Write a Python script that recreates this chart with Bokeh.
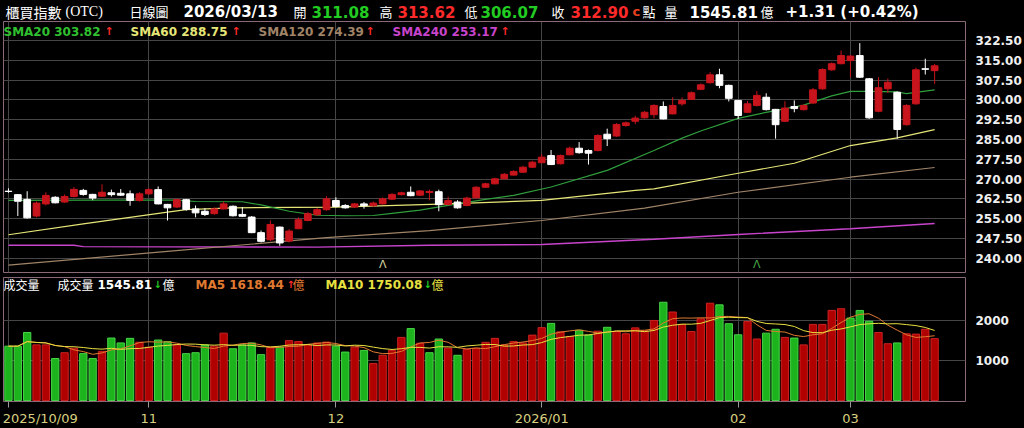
import pandas as pd
from bokeh.plotting import figure
from bokeh.layouts import column
from bokeh.models import (ColumnDataSource, Range1d, FixedTicker, Label,
                          NumeralTickFormatter, GlobalInlineStyleSheet)
from bokeh.embed import file_html
from bokeh.resources import INLINE
from bokeh.core.properties import value

# ---------------- data ----------------
opens = [265.4, 264.1, 262.3, 256.0, 260.6, 263.1, 261.3, 263.4, 265.7, 264.2,
         263.5, 264.8, 264.6, 264.4, 261.9, 264.4, 266.0, 260.4, 259.4, 262.2,
         258.7, 257.8, 256.9, 258.7, 259.7, 256.6, 255.6, 249.7, 247.0, 251.8,
         246.5, 251.2, 254.3, 256.5, 258.4, 261.9, 260.0, 259.4, 260.6, 259.9,
         260.6, 262.4, 264.1, 265.0, 263.9, 264.9, 265.2, 260.4, 261.3, 260.0,
         262.9, 266.9, 268.2, 270.1, 271.5, 272.6, 274.5, 276.2, 278.9, 275.8,
         279.2, 281.7, 280.8, 280.8, 287.0, 286.3, 290.3, 291.9, 293.2, 294.4,
         297.5, 294.7, 298.5, 300.2, 304.0, 306.5, 309.5, 305.5, 299.8, 295.3,
         297.9, 301.0, 296.4, 291.9, 297.5, 296.3, 298.8, 304.2, 311.4, 313.7,
         314.9, 316.8, 308.0, 295.7, 304.2, 302.9, 290.6, 298.5, 311.8, 311.08]
highs = [266.5, 264.3, 265.4, 261.5, 265.0, 263.5, 264.2, 267.0, 266.3, 264.4,
         268.0, 266.0, 266.2, 265.7, 265.0, 266.5, 267.2, 260.6, 262.5, 262.5,
         260.0, 259.0, 259.3, 261.5, 260.0, 259.4, 256.0, 250.5, 254.3, 252.0,
         251.0, 255.5, 257.5, 259.0, 263.5, 263.1, 260.5, 261.0, 261.3, 261.5,
         263.0, 264.6, 265.2, 267.2, 265.8, 266.0, 266.0, 263.3, 262.0, 263.3,
         267.3, 268.6, 270.5, 272.3, 273.3, 275.0, 276.9, 279.5, 281.0, 279.3,
         282.3, 284.0, 281.2, 287.0, 289.1, 291.2, 291.8, 294.0, 295.8, 298.3,
         299.4, 301.0, 301.0, 303.2, 306.2, 310.5, 311.8, 305.8, 300.0, 299.6,
         303.3, 302.5, 296.6, 299.5, 299.8, 298.3, 304.5, 312.0, 314.2, 318.7,
         317.0, 321.5, 308.3, 308.6, 308.1, 303.2, 298.3, 312.2, 315.6, 313.62]
lows = [264.8, 256.0, 255.0, 255.5, 260.0, 260.8, 261.0, 263.0, 263.7, 262.0,
        263.3, 263.4, 263.6, 259.9, 261.5, 264.0, 260.4, 254.3, 259.0, 258.0,
        255.5, 256.0, 256.5, 258.5, 255.8, 255.6, 249.5, 246.0, 246.5, 244.7,
        246.0, 251.0, 254.0, 256.0, 258.0, 259.3, 258.8, 259.0, 258.8, 259.5,
        260.3, 262.0, 263.8, 263.5, 263.6, 261.9, 257.8, 260.0, 258.8, 259.7,
        262.6, 266.6, 268.0, 270.0, 271.3, 272.3, 274.2, 276.0, 275.3, 275.5,
        279.0, 279.6, 275.5, 280.5, 282.5, 286.0, 289.8, 290.8, 292.9, 293.0,
        292.6, 294.5, 297.8, 300.0, 303.7, 306.2, 304.4, 299.4, 292.8, 295.0,
        297.5, 296.0, 285.3, 291.6, 295.3, 296.0, 298.5, 303.8, 311.0, 313.5,
        308.6, 308.3, 292.8, 295.3, 302.6, 285.3, 290.3, 298.2, 309.6, 306.07]
closes = [265.3, 261.6, 255.3, 260.9, 263.8, 261.0, 263.4, 266.1, 264.2, 262.8,
          265.0, 264.1, 263.9, 261.9, 264.4, 266.0, 260.6, 259.1, 262.2, 258.5,
          257.2, 256.6, 258.7, 260.6, 256.1, 255.9, 249.7, 246.4, 252.8, 245.8,
          250.3, 254.6, 256.9, 258.4, 262.5, 259.6, 259.1, 260.6, 259.9, 260.9,
          262.5, 264.2, 264.8, 263.7, 265.5, 265.3, 260.3, 261.9, 259.1, 262.8,
          266.9, 268.2, 270.1, 271.8, 272.9, 274.5, 276.4, 278.3, 275.5, 278.9,
          281.7, 280.0, 279.8, 286.5, 285.3, 290.7, 291.3, 293.1, 295.3, 297.9,
          292.8, 297.9, 299.8, 302.7, 305.7, 309.5, 305.5, 300.6, 294.1, 298.5,
          301.7, 296.3, 290.6, 296.9, 296.7, 297.9, 303.8, 311.5, 313.7, 316.8,
          316.6, 308.6, 293.2, 304.6, 306.7, 288.8, 297.9, 311.4, 311.59, 312.90]
volumes = [1358, 1358, 1700, 1390, 1390, 1049, 1195, 1309, 1171, 1049,
           1228, 1561, 1439, 1553, 1456, 1333, 1512, 1472, 1390, 1171,
           1195, 1390, 1358, 1683, 1293, 1390, 1439, 1146, 1333, 1333,
           1496, 1472, 1390, 1439, 1460, 1358, 1211, 1333, 1252, 927,
           1130, 1252, 1577, 1797, 1431, 1195, 1537, 1309, 1130, 1276,
           1309, 1455, 1553, 1390, 1472, 1439, 1634, 1821, 1927, 1715,
           1602, 1756, 1634, 1732, 1829, 1723, 1667, 1815, 1740, 2000,
           2455, 2211, 1902, 1724, 2041, 2431, 2390, 1919, 1642, 1976,
           1537, 1683, 1780, 1577, 1561, 1390, 1902, 1902, 2252, 2293,
           2060, 2250, 1980, 1700, 1418.6, 1439, 1668, 1659, 1780.39, 1545.81]
prev_close_before = 266.0

month_ticks = [0, 15, 35, 57, 78, 90]
month_labels = ["2025/10/09", "11", "12", "2026/01", "02", "03"]
price_ticks = [240.0, 247.5, 255.0, 262.5, 270.0, 277.5, 285.0, 292.5, 300.0, 307.5, 315.0, 322.5]
vol_ticks = [1000, 2000]

event_idx = [40, 80]
event_marks = ["Λ", "Λ"]
event_colors = ["#d8d8a0", "#48a848"]

sma20_idx = [0, 10, 18, 20, 25, 27, 30, 33, 36, 39, 41, 44, 47, 51, 54, 58, 64, 69, 72, 74, 78, 81, 85, 88, 90, 92, 95, 96, 99]
sma20_val = [261.9, 262.0, 262.0, 261.5, 261.4, 260.2, 257.8, 256.3, 256.1, 256.2, 257.0, 258.2, 260.0, 262.3, 263.8, 267.0, 273.3, 280.8, 285.5, 288.2, 293.0, 295.3, 298.0, 301.5, 303.2, 303.2, 303.0, 302.4, 303.82]
sma60_idx = [0, 8, 17, 19, 24, 35, 47, 57, 67, 69, 78, 84, 90, 95, 99]
sma60_val = [248.9, 253.0, 257.5, 258.4, 259.1, 259.4, 260.6, 261.9, 265.7, 266.3, 272.2, 276.0, 282.7, 285.6, 288.75]
sma120_idx = [0, 17, 34, 45, 57, 68, 78, 90, 99]
sma120_val = [237.4, 242.6, 247.8, 250.5, 254.3, 259.0, 265.0, 270.7, 274.39]
sma240_idx = [0, 7, 8, 33, 45, 57, 69, 78, 90, 99]
sma240_val = [244.9, 244.9, 244.4, 244.2, 244.9, 245.2, 247.2, 249.0, 251.2, 253.17]

# ---------------- styling ----------------
BG = "#000000"
FRAME = "#8a6a78"
GRID = "#464646"
UP = "#c8141c"
DOWN = "#ffffff"
VOL_UP, VOL_UP_LINE = "#b00000", "#cc2222"
VOL_DN, VOL_DN_LINE = "#1db31d", "#48d448"
RED_TXT, GRN_TXT = "#ff2a2a", "#22cc22"
C_SMA20, C_SMA60, C_SMA120, C_SMA240 = "#2f9e3c", "#e6e678", "#a08468", "#c844cc"
T_SMA20 = "#30c030"
C_MA5, C_MA10 = "#e07a30", "#e8e040"
XLAB = "#d8d080"
F_NUM = "DejaVu Sans"
F_CJK = "Noto Sans CJK TC"
W = 1024
FIRST_LABEL_SHIFT = 3.4   # the first date label is drawn right of its tick

n = len(closes)
xs = list(range(n))
prev = [prev_close_before] + closes[:-1]
ccol = [UP if c >= o else DOWN for o, c in zip(opens, closes)]
vcol = [VOL_UP if c >= pc else VOL_DN for c, pc in zip(closes, prev)]
vline = [VOL_UP_LINE if c >= pc else VOL_DN_LINE for c, pc in zip(closes, prev)]
vs = pd.Series(volumes, dtype=float)
ma5 = vs.rolling(5, min_periods=1).mean()
ma10 = vs.rolling(10, min_periods=1).mean()

src = ColumnDataSource(dict(
    x=xs, o=opens, h=highs, l=lows, c=closes,
    top=[max(o, c) for o, c in zip(opens, closes)],
    bot=[min(o, c) for o, c in zip(opens, closes)],
    ccol=ccol, vol=volumes, vcol=vcol, vline=vline,
    ma5=list(ma5), ma10=list(ma10)))

XR = (-0.53, 102.3)


def base_fig(height, yr, top, bottom, xloc):
    f = figure(width=W, height=height, output_backend="svg", toolbar_location=None,
               title=None, x_range=Range1d(*XR), y_range=Range1d(*yr),
               min_border_left=3, min_border_right=53, min_border_top=top,
               min_border_bottom=bottom, background_fill_color=BG,
               border_fill_color=BG, outline_line_color=FRAME, outline_line_width=1,
               x_axis_location=xloc, y_axis_location="right")
    f.xgrid.ticker = FixedTicker(ticks=month_ticks)
    f.xgrid.grid_line_color = GRID
    f.ygrid.grid_line_color = GRID
    ax = f.yaxis[0]
    ax.axis_line_color = None
    ax.major_tick_line_color = None
    ax.minor_tick_line_color = None
    ax.major_label_standoff = 4
    ax.major_label_text_font = F_NUM
    ax.major_label_text_font_style = "bold"
    ax.major_label_text_font_size = "12px"
    ax.major_label_text_color = "#f0f0f0"
    return f


def add_text(fig, x, y, text, color, size, bold=False, font=F_NUM, baseline="middle"):
    fig.add_layout(Label(x=x, y=y, x_units="screen", y_units="screen", text=text,
                         text_color=color, text_font=font, text_font_size=size,
                         text_font_style="bold" if bold else "normal",
                         text_baseline=baseline, text_align="left"))


# ---------------- title row ----------------
H0 = 20
p0 = figure(width=W, height=H0, output_backend="svg", toolbar_location=None, title=None,
            x_range=Range1d(0, 1), y_range=Range1d(0, 1), min_border=0,
            min_border_left=0, min_border_right=0, min_border_top=0, min_border_bottom=0,
            background_fill_color=BG, border_fill_color=BG, outline_line_color=None,
            x_axis_location=None, y_axis_location=None)
p0.xgrid.grid_line_color = None
p0.ygrid.grid_line_color = None

ty = H0 - 11
chg = closes[-1] - closes[-2]
pct = chg / closes[-2] * 100
add_text(p0, 2, ty, "櫃買指數", "#ffffff", "14px", font=F_CJK)
add_text(p0, 62, ty, "(OTC)", "#ffffff", "14px", font="Liberation Serif")
add_text(p0, 126, ty, "日線圖", "#ffffff", "13px", font=F_CJK)
add_text(p0, 180, ty, "2026/03/13", "#ffffff", "15px", bold=True)
add_text(p0, 290, ty, "開", "#ffffff", "13px", font=F_CJK)
add_text(p0, 308, ty, f"{opens[-1]:.2f}", GRN_TXT, "15px", bold=True)
add_text(p0, 376, ty, "高", "#ffffff", "13px", font=F_CJK)
add_text(p0, 394, ty, f"{highs[-1]:.2f}", RED_TXT, "15px", bold=True)
add_text(p0, 461, ty, "低", "#ffffff", "13px", font=F_CJK)
add_text(p0, 477, ty, f"{lows[-1]:.2f}", GRN_TXT, "15px", bold=True)
add_text(p0, 548, ty, "收", "#ffffff", "13px", font=F_CJK)
add_text(p0, 567, ty, f"{closes[-1]:.2f}", RED_TXT, "15px", bold=True)
add_text(p0, 629, ty, "c", "#e84020", "13px", bold=True)
add_text(p0, 639, ty, "點", "#ffffff", "13px", font=F_CJK)
add_text(p0, 661, ty, "量", "#ffffff", "13px", font=F_CJK)
add_text(p0, 686, ty, f"{volumes[-1]:.2f}", "#ffffff", "15px", bold=True)
add_text(p0, 757, ty, "億", "#ffffff", "13px", font=F_CJK)
add_text(p0, 782, ty, f"{chg:+.2f} ({pct:+.2f}%)", "#ffffff", "15px", bold=True)

# ---------------- price panel ----------------
FH1 = 251
p1 = base_fig(255, (234.6, 329.7), 1, 3, None)
p1.yaxis[0].ticker = FixedTicker(ticks=price_ticks)
p1.yaxis[0].formatter = NumeralTickFormatter(format="0.00")

p1.line(sma240_idx, sma240_val, line_color=C_SMA240, line_width=1.4)
p1.line(sma120_idx, sma120_val, line_color=C_SMA120, line_width=1.2)
p1.line(sma60_idx, sma60_val, line_color=C_SMA60, line_width=1.2)
p1.line(sma20_idx, sma20_val, line_color=C_SMA20, line_width=1.2)
p1.segment(x0="x", y0="h", x1="x", y1="l", line_color="ccol", line_width=1, source=src)
p1.vbar(x="x", width=0.72, top="top", bottom="bot", fill_color="ccol",
        line_color="ccol", line_width=1, source=src)
p1.text(x=event_idx, y=[235.1] * len(event_idx), text=event_marks, text_color=event_colors,
        text_font=value(F_NUM), text_font_size="11px", text_align="center",
        text_baseline="bottom")

ly = FH1 - 10
add_text(p1, 0, ly, f"SMA20 {sma20_val[-1]:.2f}", T_SMA20, "12px", bold=True)
add_text(p1, 101, ly, "↑", RED_TXT, "11px", bold=True)
add_text(p1, 127, ly, f"SMA60 {sma60_val[-1]:.2f}", C_SMA60, "12px", bold=True)
add_text(p1, 228, ly, "↑", RED_TXT, "11px", bold=True)
add_text(p1, 255, ly, f"SMA120 {sma120_val[-1]:.2f}", C_SMA120, "12px", bold=True)
add_text(p1, 362, ly, "↑", RED_TXT, "11px", bold=True)
add_text(p1, 389, ly, f"SMA240 {sma240_val[-1]:.2f}", C_SMA240, "12px", bold=True)
add_text(p1, 497, ly, "↑", RED_TXT, "11px", bold=True)

# ---------------- volume panel ----------------
FH2 = 126
p2 = base_fig(153, (-24, 3073), 2, 25, "below")
p2.yaxis[0].ticker = FixedTicker(ticks=vol_ticks)
p2.yaxis[0].formatter = NumeralTickFormatter(format="0")
xa = p2.xaxis[0]
label_pos = [month_ticks[0] + FIRST_LABEL_SHIFT] + month_ticks[1:]
# tick marks drawn as (visible) minor ticks at the month starts, labels as majors
xa.ticker = FixedTicker(ticks=label_pos, minor_ticks=month_ticks)
xa.major_label_overrides = {pos: lab for pos, lab in zip(label_pos, month_labels)}
xa.axis_line_color = None
xa.major_tick_line_color = None
xa.major_tick_in = 0
xa.major_tick_out = 6
xa.minor_tick_line_color = "#9a9a9a"
xa.minor_tick_in = 0
xa.minor_tick_out = 6
xa.major_label_standoff = 3
xa.major_label_text_font = F_NUM
xa.major_label_text_font_size = "13px"
xa.major_label_text_color = XLAB

p2.vbar(x="x", width=0.78, top="vol", bottom=0, fill_color="vcol", line_color="vline",
        line_width=1, source=src)
p2.line("x", "ma5", line_color=C_MA5, line_width=1, source=src)
p2.line("x", "ma10", line_color=C_MA10, line_width=1, source=src)

vy = FH2 - 9
v_dir = "↓" if volumes[-1] < volumes[-2] else "↑"
m5_dir = "↑" if ma5.iloc[-1] >= ma5.iloc[-2] else "↓"
m10_dir = "↑" if ma10.iloc[-1] >= ma10.iloc[-2] else "↓"
add_text(p2, 0, vy, "成交量", "#ffffff", "12px", font=F_CJK)
add_text(p2, 54, vy, "成交量", "#ffffff", "12px", font=F_CJK)
add_text(p2, 94, vy, f"{volumes[-1]:.2f}", "#ffffff", "12px", bold=True)
add_text(p2, 150, vy, v_dir, GRN_TXT if v_dir == "↓" else RED_TXT, "10px", bold=True)
add_text(p2, 159, vy, "億", "#ffffff", "12px", font=F_CJK)
add_text(p2, 192, vy, f"MA5 {ma5.iloc[-1]:.2f}", C_MA5, "12px", bold=True)
add_text(p2, 283, vy, m5_dir, RED_TXT if m5_dir == "↑" else GRN_TXT, "10px", bold=True)
add_text(p2, 289, vy, "億", C_MA5, "12px", font=F_CJK)
add_text(p2, 322, vy, f"MA10 {ma10.iloc[-1]:.2f}", C_MA10, "12px", bold=True)
add_text(p2, 420, vy, m10_dir, RED_TXT if m10_dir == "↑" else GRN_TXT, "10px", bold=True)
add_text(p2, 428, vy, "億", C_MA10, "12px", font=F_CJK)

layout = column(p0, p1, p2, spacing=0,
                stylesheets=[GlobalInlineStyleSheet(css="html, body { background-color: #000000; }")])

open("out.html", "w").write(file_html(layout, INLINE))
